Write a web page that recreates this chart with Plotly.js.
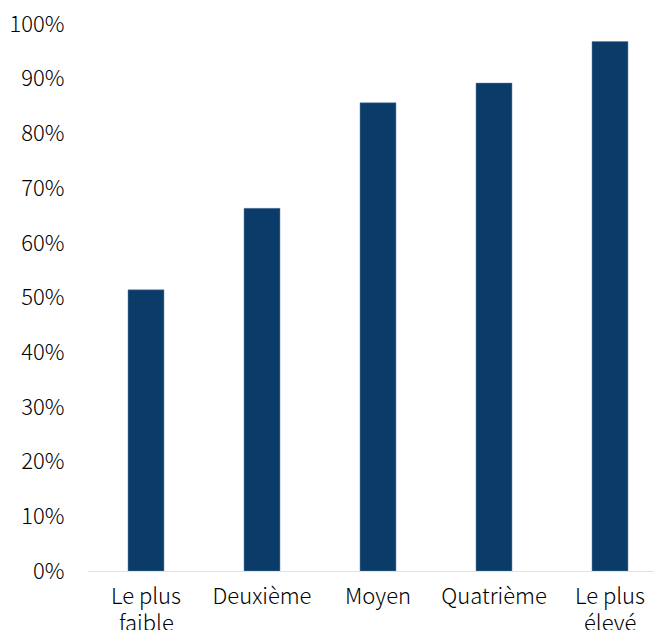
<!DOCTYPE html>
<html>
<head>
<meta charset="utf-8">
<script src="https://cdn.plot.ly/plotly-3.0.1.min.js"></script>
<style>html,body{margin:0;padding:0;overflow:hidden;background:#fff;}</style>
</head>
<body>
<div id="chart"></div>
<script>
const categories = ["Le plus faible", "Deuxième", "Moyen", "Quatrième", "Le plus élevé"];
const labelLine1 = ["Le plus", "Deuxième", "Moyen", "Quatrième", "Le plus"];
const labelLine2 = ["faible", "", "", "", "élevé"];
const values = [0.514, 0.663, 0.856, 0.892, 0.968];
const yTickVals = [0, 0.1, 0.2, 0.3, 0.4, 0.5, 0.6, 0.7, 0.8, 0.9, 1.0];
const yTickText = ["0%", "10%", "20%", "30%", "40%", "50%", "60%", "70%", "80%", "90%", "100%"];

const font = {family: '"Noto Sans CJK SC", "Noto Sans", sans-serif', size: 22, color: '#000', weight: 300};

const annotations = categories.map((c, i) => ({
  x: c, xref: 'x', y: 0, yref: 'paper',
  yanchor: 'middle', xanchor: 'center',
  yshift: -50,
  text: labelLine2[i], showarrow: false, font: font
})).filter(a => a.text);

Plotly.newPlot('chart', [{
  type: 'bar',
  x: categories,
  y: values,
  marker: {color: '#0B3B69', line: {color: '#5F7FA0', width: 0.5}},
  hoverinfo: 'none'
}], {
  width: 668,
  height: 630,
  margin: {l: 88, r: 0, t: 24, b: 59},
  paper_bgcolor: '#fff',
  plot_bgcolor: '#fff',
  bargap: 0.69,
  showlegend: false,
  font: font,
  annotations: annotations,
  xaxis: {
    tickvals: categories, ticktext: labelLine1,
    showline: true, linecolor: '#F2DCDB', linewidth: 1,
    showgrid: false, zeroline: false,
    ticks: 'outside', ticklen: 6, tickcolor: 'rgba(0,0,0,0)',
    tickfont: font
  },
  yaxis: {
    range: [0, 1],
    tickvals: yTickVals, ticktext: yTickText,
    showgrid: false, zeroline: false, showline: false,
    ticks: 'outside', ticklen: 18, tickcolor: 'rgba(0,0,0,0)',
    tickfont: font
  }
}, {displayModeBar: false, staticPlot: true});
</script>
</body>
</html>
